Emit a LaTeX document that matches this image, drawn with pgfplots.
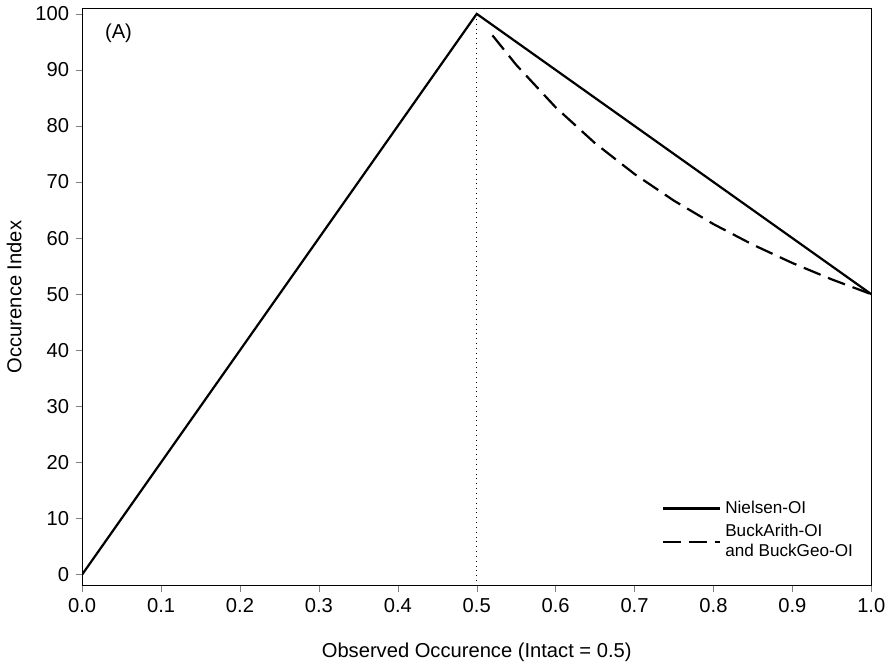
\documentclass[border=0pt]{standalone}
\usepackage{pgfplots}
\pgfplotsset{compat=1.18}
\usepackage{fontspec}
\setmainfont{Liberation Sans}
\begin{document}
\fontsize{10}{12}\selectfont
\begin{tikzpicture}
\begin{axis}[
  scale only axis, width=391.5pt, height=286.5pt,
  xmin=0, xmax=1, ymin=-2, ymax=101,
  xtick={0,0.1,...,1.0}, ytick={0,10,...,100},
  xticklabel style={/pgf/number format/.cd,fixed,fixed zerofill,precision=1},
  /pgf/number format/assume math mode=true,
  tick align=outside, xtick pos=bottom, ytick pos=left,
  major tick length=3pt,
  xlabel={Observed Occurence (Intact = 0.5)}, ylabel={Occurence Index},
  xlabel style={yshift=-8pt}, ylabel style={yshift=0pt},
  legend style={draw=none, fill=none, at={(0.99,0.03)}, anchor=south east, nodes={align=left}, font=\fontsize{8.5}{10}\selectfont},
  legend cell align=left,
  legend image code/.code={\draw[#1] (0cm,0cm) -- (1.0cm,0cm);},
]
\addplot[black, line width=1.1pt] coordinates {(0,0) (0.5,100) (1,50)};
\addlegendentry{Nielsen-OI}
\addplot[black, line width=1.1pt, dash pattern=on 9pt off 4pt] coordinates {(0.52,96.15) (0.55,90.91) (0.6,83.33) (0.65,76.92) (0.7,71.43) (0.75,66.67) (0.8,62.5) (0.85,58.82) (0.9,55.56) (0.95,52.63) (1.0,50)};
\addlegendentry{BuckArith-OI\\and BuckGeo-OI}
\addplot[black, thin, dotted, forget plot] coordinates {(0.5,-2) (0.5,100)};
\node[anchor=north west] at (axis cs:0.02,99.5) {(A)};
\end{axis}
\end{tikzpicture}
\end{document}
